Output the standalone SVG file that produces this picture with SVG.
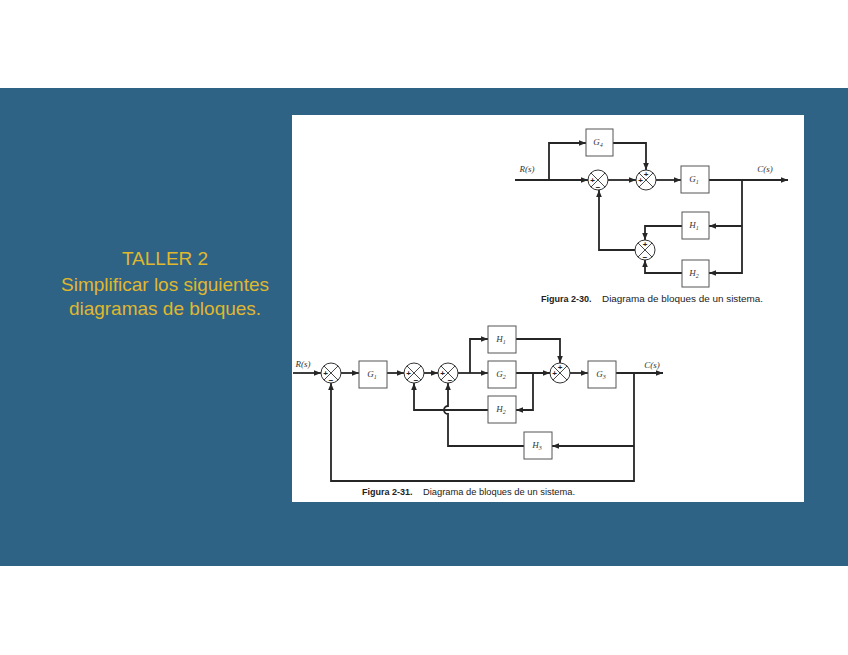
<svg xmlns="http://www.w3.org/2000/svg" width="848" height="655" viewBox="0 0 848 655">
<style>
.ln{fill:none;stroke:#262626;stroke-width:1.8}
.bx{fill:#fff;stroke:#555;stroke-width:1}
.sc{fill:#fff;stroke:#333;stroke-width:1}
.sx{stroke:#333;stroke-width:0.9}
.lb{font-family:"Liberation Serif",serif;font-style:italic;font-size:9px;fill:#333;text-anchor:middle}
.sg{font-family:"Liberation Sans",sans-serif;font-size:8px;font-weight:bold;fill:#222;text-anchor:middle}
.cap{font-family:"Liberation Sans",Arial,sans-serif;font-size:9px;fill:#222}
.capb{font-weight:bold}
.ttl{font-family:"Liberation Sans",Arial,sans-serif;font-size:19px;fill:#e0b82c;text-anchor:middle}
</style>
<defs>
<marker id="ar" viewBox="0 0 10 10" refX="10" refY="5" markerWidth="7" markerHeight="7" markerUnits="userSpaceOnUse" orient="auto">
<path d="M0,1 L10,5 L0,9 Z" fill="#262626"/>
</marker>
<g id="sumj">
<circle class="sc" cx="0" cy="0" r="10"/>
<line class="sx" x1="-7.07" y1="-7.07" x2="7.07" y2="7.07"/>
<line class="sx" x1="-7.07" y1="7.07" x2="7.07" y2="-7.07"/>
</g>
</defs>
<rect x="0" y="0" width="848" height="655" fill="#fff"/>
<rect x="0" y="88" width="848" height="478" fill="#2e6386"/>
<rect x="292" y="115" width="512" height="387" fill="#fff"/>
<g id="title">
<text class="ttl" x="165" y="265">TALLER 2</text>
<text class="ttl" x="165" y="291">Simplificar los siguientes</text>
<text class="ttl" x="165" y="315">diagramas de bloques.</text>
</g>
<!-- Figure 2-30 -->
<g id="connectors-230">
<path class="ln" d="M515,180 H588" marker-end="url(#ar)"/>
<path class="ln" d="M549,180 V143 H586" marker-end="url(#ar)"/>
<path class="ln" d="M613,143 H646 V170" marker-end="url(#ar)"/>
<path class="ln" d="M608,180 H636" marker-end="url(#ar)"/>
<path class="ln" d="M656,180 H681" marker-end="url(#ar)"/>
<path class="ln" d="M709,180 H788" marker-end="url(#ar)"/>
<path class="ln" d="M742,180 V273 H709" marker-end="url(#ar)"/>
<path class="ln" d="M742,226 H709" marker-end="url(#ar)"/>
<path class="ln" d="M682,226 H645 V240" marker-end="url(#ar)"/>
<path class="ln" d="M682,273 H645 V260" marker-end="url(#ar)"/>
<path class="ln" d="M635,250 H599 V190" marker-end="url(#ar)"/>
</g>
<g id="f30-labels">
<text class="lb" x="527" y="172">R(s)</text>
<text class="lb" x="765" y="172">C(s)</text>
</g>
<g id="f30-G4"><rect class="bx" x="586" y="129" width="27" height="27"/><text class="lb" x="598" y="145">G<tspan font-size="6" dy="2">4</tspan></text></g>
<g id="f30-G1"><rect class="bx" x="681" y="166" width="28" height="27"/><text class="lb" x="694" y="182">G<tspan font-size="6" dy="2">1</tspan></text></g>
<g id="f30-H1"><rect class="bx" x="682" y="212" width="27" height="27"/><text class="lb" x="694" y="228">H<tspan font-size="6" dy="2">1</tspan></text></g>
<g id="f30-H2"><rect class="bx" x="682" y="260" width="27" height="27"/><text class="lb" x="694" y="276">H<tspan font-size="6" dy="2">2</tspan></text></g>
<g id="f30-S1"><use href="#sumj" x="598" y="180"/><text class="sg" x="592.5" y="183">+</text><text class="sg" x="598" y="189.5">−</text></g>
<g id="f30-S2"><use href="#sumj" x="646" y="180"/><text class="sg" x="646" y="177">+</text><text class="sg" x="640.5" y="183">+</text></g>
<g id="f30-S3"><use href="#sumj" x="645" y="250"/><text class="sg" x="645" y="247">+</text><text class="sg" x="645" y="259.5">−</text></g>
<g id="f30-caption">
<text class="cap capb" x="541" y="302">Figura 2-30.</text>
<text class="cap" x="602" y="302" textLength="161" lengthAdjust="spacingAndGlyphs">Diagrama de bloques de un sistema.</text>
</g>
<!-- Figure 2-31 -->
<g id="connectors-231">
<path class="ln" d="M293,373 H321" marker-end="url(#ar)"/>
<path class="ln" d="M341,373 H359" marker-end="url(#ar)"/>
<path class="ln" d="M387,373 H404" marker-end="url(#ar)"/>
<path class="ln" d="M424,373 H438" marker-end="url(#ar)"/>
<path class="ln" d="M458,373 H488" marker-end="url(#ar)"/>
<path class="ln" d="M470,373 V339 H488" marker-end="url(#ar)"/>
<path class="ln" d="M516,339 H560 V363" marker-end="url(#ar)"/>
<path class="ln" d="M516,373 H550" marker-end="url(#ar)"/>
<path class="ln" d="M533,373 V410 H516" marker-end="url(#ar)"/>
<path class="ln" d="M488,410 H414 V383" marker-end="url(#ar)"/>
<path class="ln" d="M570,373 H588" marker-end="url(#ar)"/>
<path class="ln" d="M616,373 H663" marker-end="url(#ar)"/>
<path class="ln" d="M634,373 V481 H331 V383" marker-end="url(#ar)"/>
<path class="ln" d="M634,446 H552" marker-end="url(#ar)"/>
<path class="ln" d="M524,446 H448 V414 A4,4 0 0 1 448,406 V383" marker-end="url(#ar)"/>
</g>
<g id="f31-labels">
<text class="lb" x="303" y="367">R(s)</text>
<text class="lb" x="652" y="368">C(s)</text>
</g>
<g id="f31-G1"><rect class="bx" x="359" y="361" width="28" height="27"/><text class="lb" x="372" y="377">G<tspan font-size="6" dy="2">1</tspan></text></g>
<g id="f31-H1"><rect class="bx" x="488" y="326" width="28" height="27"/><text class="lb" x="501" y="342">H<tspan font-size="6" dy="2">1</tspan></text></g>
<g id="f31-G2"><rect class="bx" x="488" y="361" width="28" height="27"/><text class="lb" x="501" y="377">G<tspan font-size="6" dy="2">2</tspan></text></g>
<g id="f31-H2"><rect class="bx" x="488" y="396" width="28" height="27"/><text class="lb" x="501" y="412">H<tspan font-size="6" dy="2">2</tspan></text></g>
<g id="f31-G3"><rect class="bx" x="588" y="361" width="28" height="27"/><text class="lb" x="601" y="377">G<tspan font-size="6" dy="2">3</tspan></text></g>
<g id="f31-H3"><rect class="bx" x="524" y="432" width="28" height="27"/><text class="lb" x="537" y="448">H<tspan font-size="6" dy="2">3</tspan></text></g>
<g id="f31-SA"><use href="#sumj" x="331" y="373"/><text class="sg" x="325.5" y="376">+</text><text class="sg" x="331" y="382.5">−</text></g>
<g id="f31-SB"><use href="#sumj" x="414" y="373"/><text class="sg" x="408.5" y="376">+</text><text class="sg" x="416" y="382.5">−</text></g>
<g id="f31-SC"><use href="#sumj" x="448" y="373"/><text class="sg" x="442.5" y="376">+</text><text class="sg" x="450" y="382.5">−</text></g>
<g id="f31-SD"><use href="#sumj" x="560" y="373"/><text class="sg" x="560" y="370">+</text><text class="sg" x="554.5" y="376">+</text></g>
<g id="f31-caption">
<text class="cap capb" x="362" y="495">Figura 2-31.</text>
<text class="cap" x="423" y="495" textLength="152" lengthAdjust="spacingAndGlyphs">Diagrama de bloques de un sistema.</text>
</g>
</svg>
